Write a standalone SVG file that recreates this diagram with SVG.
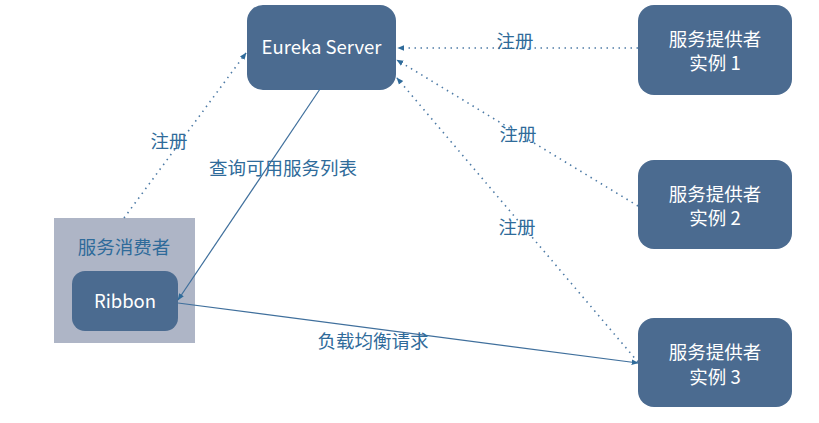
<svg xmlns="http://www.w3.org/2000/svg" width="819" height="423" viewBox="0 0 819 423">
<style>
.node{fill:#4b6b90;}
.nt{font-family:"Noto Sans CJK SC","Noto Sans",sans-serif;font-size:18.5px;fill:#ffffff;text-anchor:middle;}
.lbl{font-family:"Noto Sans CJK SC","Noto Sans",sans-serif;font-size:18.5px;fill:#2f6b9a;text-anchor:middle;}
.dot{fill:none;stroke:#4e7ba6;stroke-width:1.6;stroke-dasharray:1.5 4.5;}
.sol{fill:none;stroke:#3f6f9c;stroke-width:1.2;}
</style>
<defs>
<marker id="ah" viewBox="0 0 10 10" refX="9" refY="5" markerWidth="7" markerHeight="7" orient="auto" markerUnits="userSpaceOnUse">
<path d="M0,1 L10,5 L0,9 z" fill="#2f6b9a"/>
</marker>
</defs>
<rect width="819" height="423" fill="#ffffff"/>
<g id="eureka">
<rect class="node" x="247" y="5" width="149" height="85" rx="16"/>
<text class="nt" x="321.5" y="54">Eureka Server</text>
</g>
<g id="provider1">
<rect class="node" x="638" y="5" width="154" height="90" rx="16"/>
<text class="nt" x="715" y="46">服务提供者</text>
<text class="nt" x="715" y="70">实例 1</text>
</g>
<g id="provider2">
<rect class="node" x="638" y="160" width="154" height="89" rx="16"/>
<text class="nt" x="715" y="201">服务提供者</text>
<text class="nt" x="715" y="225">实例 2</text>
</g>
<g id="provider3">
<rect class="node" x="638" y="318" width="154" height="89" rx="16"/>
<text class="nt" x="715" y="359">服务提供者</text>
<text class="nt" x="715" y="384">实例 3</text>
</g>
<g id="consumer">
<rect x="54" y="218" width="141" height="125" fill="#aeb5c6"/>
<text class="lbl" x="124" y="254">服务消费者</text>
</g>
<g id="ribbon">
<rect class="node" x="72" y="271" width="106" height="60" rx="13"/>
<text class="nt" x="125" y="308">Ribbon</text>
</g>
<g id="connectors">
<line class="dot" x1="638" y1="48" x2="398" y2="48" marker-end="url(#ah)"/>
<line class="dot" x1="638" y1="206" x2="397" y2="60" marker-end="url(#ah)"/>
<line class="dot" x1="638" y1="362" x2="397" y2="78" marker-end="url(#ah)"/>
<line class="dot" x1="124" y1="218" x2="246" y2="53" marker-end="url(#ah)"/>
<line class="sol" x1="320" y1="89" x2="178" y2="300" marker-end="url(#ah)"/>
<line class="sol" x1="178" y1="303" x2="638" y2="363" marker-end="url(#ah)"/>
<text class="lbl" x="515" y="48">注册</text>
<text class="lbl" x="518" y="141">注册</text>
<text class="lbl" x="517" y="234">注册</text>
<text class="lbl" x="169" y="148">注册</text>
<text class="lbl" x="283" y="175">查询可用服务列表</text>
<text class="lbl" x="373" y="348">负载均衡请求</text>
</g>
</svg>
